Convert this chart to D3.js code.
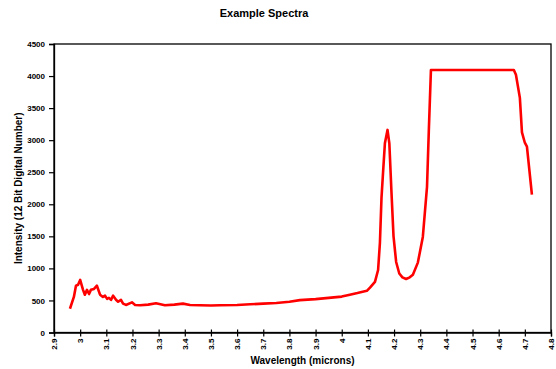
<!DOCTYPE html>
<html>
<head>
<meta charset="utf-8">
<script src="https://cdn.jsdelivr.net/npm/d3@7"></script>
<style>
  body { margin: 0; background: #fff; }
  text { font-family: "Liberation Sans", Arial, sans-serif; font-weight: bold; fill: #000; }
</style>
</head>
<body>
<div id="chart"></div>
<script>
// values
let wavelength = [2.961, 2.976, 2.984, 2.992, 3.0, 3.011, 3.018, 3.026, 3.034, 3.041, 3.053, 3.064,
    3.076, 3.087, 3.095, 3.103, 3.11, 3.118, 3.126, 3.137, 3.145, 3.156, 3.164, 3.175, 3.198,
    3.21, 3.229, 3.26, 3.29, 3.324, 3.36, 3.393, 3.42, 3.458, 3.5, 3.535, 3.6, 3.65, 3.7,
    3.75, 3.8, 3.84, 3.9, 3.95, 4.0, 4.031, 4.06, 4.096, 4.108, 4.127, 4.139, 4.146, 4.152,
    4.158, 4.165, 4.175, 4.182, 4.19, 4.198, 4.208, 4.22, 4.232, 4.246, 4.26, 4.272, 4.291,
    4.31, 4.326, 4.333, 4.341, 4.4, 4.5, 4.6, 4.658, 4.666, 4.681, 4.689, 4.7, 4.708, 4.727];
let intensity = [370, 555, 730, 745, 820, 665, 590, 665, 600, 665, 680, 730,
    590, 555, 575, 525, 540, 510, 575, 510, 480, 510, 450, 430, 470,
    430, 425, 435, 455, 425, 435, 450, 430, 425, 420, 425, 430, 440, 450,
    460, 480, 505, 520, 540, 560, 590, 615, 650, 700, 790, 975, 1400, 2100,
    2500, 2950, 3160, 2950, 2200, 1500, 1100, 920, 860, 835, 860, 900, 1090,
    1490, 2270, 3160, 4095, 4095, 4095, 4095, 4095, 4020, 3660, 3120, 2960, 2900, 2150];
let xTicks = [2.9, 3, 3.1, 3.2, 3.3, 3.4, 3.5, 3.6, 3.7, 3.8, 3.9, 4, 4.1, 4.2, 4.3, 4.4, 4.5, 4.6, 4.7, 4.8];
let yTicks = [0, 500, 1000, 1500, 2000, 2500, 3000, 3500, 4000, 4500];

let width = 556, height = 369;
let plotLeft = 54, plotRight = 551, plotTop = 44, plotBottom = 332.5;

let svg = d3.select('#chart')
    .append('svg')
    .attr('width', width)
    .attr('height', height);

let x = d3.scaleLinear().domain([2.9, 4.8]).range([plotLeft, plotRight]);
let y = d3.scaleLinear().domain([0, 4500]).range([plotBottom, plotTop]);

// frame
svg.append('rect')
    .attr('x', plotLeft)
    .attr('y', plotTop)
    .attr('width', plotRight - plotLeft)
    .attr('height', plotBottom - plotTop)
    .attr('fill', 'none')
    .attr('stroke', '#000')
    .attr('stroke-width', 1.3);

let xAxis = svg.append('g')
    .attr('transform', 'translate(0,' + plotBottom + ')')
    .call(d3.axisBottom(x).tickValues(xTicks).tickSize(4).tickFormat(d3.format('')));
xAxis.select('.domain').attr('stroke-width', 1.3);
xAxis.selectAll('.tick line').attr('y1', -3).attr('stroke-width', 1.2);
xAxis.selectAll('.tick text')
    .attr('transform', 'rotate(-90)')
    .attr('text-anchor', 'end')
    .attr('x', -6)
    .attr('y', 0)
    .attr('dy', '0.32em')
    .style('font-size', '8px');

let yAxis = svg.append('g')
    .attr('transform', 'translate(' + plotLeft + ',0)')
    .call(d3.axisLeft(y).tickValues(yTicks).tickSize(5).tickPadding(4).tickFormat(d3.format('d')));
yAxis.select('.domain').attr('stroke-width', 1.3);
yAxis.selectAll('.tick line').attr('stroke-width', 1.2);
yAxis.selectAll('.tick text').style('font-size', '8px');

let line = d3.line()
    .x(function (d, i) { return x(wavelength[i]); })
    .y(function (d) { return y(d); });

svg.append('path')
    .attr('d', line(intensity))
    .attr('fill', 'none')
    .attr('stroke', '#ff0000')
    .attr('stroke-width', 2.6)
    .attr('stroke-linejoin', 'round');

svg.append('text')
    .attr('x', 264)
    .attr('y', 17)
    .attr('text-anchor', 'middle')
    .style('font-size', '11px')
    .text('Example Spectra');

svg.append('text')
    .attr('x', (plotLeft + plotRight) / 2)
    .attr('y', 364)
    .attr('text-anchor', 'middle')
    .style('font-size', '10px')
    .text('Wavelength (microns)');

svg.append('text')
    .attr('transform', 'translate(22,' + (plotTop + plotBottom) / 2 + ') rotate(-90)')
    .attr('text-anchor', 'middle')
    .style('font-size', '10px')
    .text('Intensity (12 Bit Digital Number)');
</script>
</body>
</html>
